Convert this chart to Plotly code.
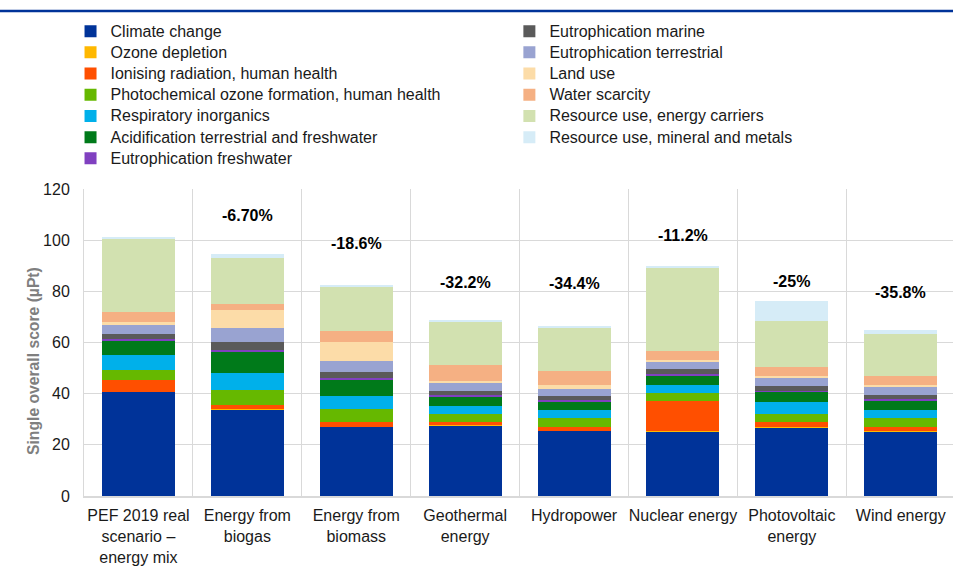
import plotly.graph_objects as go

categories = ["PEF 2019 real<br>scenario –<br>energy mix", "Energy from<br>biogas", "Energy from<br>biomass",
              "Geothermal<br>energy", "Hydropower", "Nuclear energy", "Photovoltaic<br>energy", "Wind energy"]

climate_change = [40.7, 34.0, 27.0, 27.4, 25.5, 25.3, 26.9, 25.3]
ozone_depletion = [0.1, 0.05, 0.05, 0.3, 0.05, 0.05, 0.05, 0.05]
ionising_radiation = [4.5, 1.7, 1.7, 1.4, 1.6, 11.7, 1.9, 1.8]
photochemical_ozone = [4.1, 5.7, 5.2, 3.0, 3.2, 3.3, 3.3, 3.2]
respiratory_inorganics = [5.8, 6.8, 5.3, 3.0, 3.1, 2.9, 4.7, 3.2]
acidification = [5.5, 8.0, 6.0, 3.9, 3.6, 3.9, 3.8, 3.6]
eutro_freshwater = [0.5, 1.0, 0.8, 0.4, 0.5, 0.7, 0.4, 0.6]
eutro_marine = [2.0, 2.9, 2.4, 1.6, 1.7, 1.6, 1.9, 1.7]
eutro_terrestrial = [3.8, 5.4, 4.3, 3.0, 2.7, 2.8, 3.1, 3.1]
land_use = [0.9, 7.3, 7.4, 0.9, 1.3, 1.0, 1.0, 0.9]
water_scarcity = [4.0, 2.3, 4.3, 6.4, 5.5, 3.3, 3.5, 3.4]
resource_energy = [28.5, 17.9, 17.3, 16.7, 16.8, 32.6, 17.7, 16.6]
resource_mineral = [0.9, 1.6, 0.8, 0.8, 0.9, 0.9, 7.9, 1.5]

change_labels = ["", "-6.70%", "-18.6%", "-32.2%", "-34.4%", "-11.2%", "-25%", "-35.8%"]
label_y = [None, 109.7, 98.6, 83.5, 82.9, 102.0, 84.0, 79.5]

y_title = "Single overall score (µPt)"

series = [
    ("Climate change", climate_change, "#003399", "legend"),
    ("Ozone depletion", ozone_depletion, "#FFB800", "legend"),
    ("Ionising radiation, human health", ionising_radiation, "#FF4F00", "legend"),
    ("Photochemical ozone formation, human health", photochemical_ozone, "#66B800", "legend"),
    ("Respiratory inorganics", respiratory_inorganics, "#00B0EA", "legend"),
    ("Acidification terrestrial and freshwater", acidification, "#007A1A", "legend"),
    ("Eutrophication freshwater", eutro_freshwater, "#8040C0", "legend"),
    ("Eutrophication marine", eutro_marine, "#5A5A5A", "legend2"),
    ("Eutrophication terrestrial", eutro_terrestrial, "#99A3D1", "legend2"),
    ("Land use", land_use, "#FCDCA8", "legend2"),
    ("Water scarcity", water_scarcity, "#F5B083", "legend2"),
    ("Resource use, energy carriers", resource_energy, "#D2E1B0", "legend2"),
    ("Resource use, mineral and metals", resource_mineral, "#D6ECF7", "legend2"),
]

FONT = "Liberation Sans, Arial, sans-serif"

fig = go.Figure()
for name, vals, color, lg in series:
    fig.add_trace(go.Bar(x=categories, y=vals,
                         name="<span style='font-size:16px'>" + name + "</span>",
                         marker_color=color, marker_line_width=0, width=0.67, legend=lg))

for c, t, yv in zip(categories, change_labels, label_y):
    if t:
        fig.add_annotation(x=c, y=yv, text="<b>" + t + "</b>", showarrow=False,
                           font=dict(size=16, color="#000000", family=FONT))

# y-axis title (placed like the original, slightly below the axis centre)
fig.add_annotation(xref="paper", yref="paper", x=-0.0575, y=0.44, text="<b>" + y_title + "</b>",
                   textangle=-90, showarrow=False, xanchor="center", yanchor="middle",
                   font=dict(size=15.7, color="#7f7f7f", family=FONT))

fig.add_shape(type="line", xref="paper", yref="paper", x0=-0.1, x1=1.0, y0=1.58, y1=1.58,
              line=dict(color="#003399", width=2.5))

legend_common = dict(traceorder="normal", bgcolor="rgba(0,0,0,0)",
                     font=dict(size=14, color="#1a1a1a", family=FONT),
                     tracegroupgap=0, itemwidth=30, xanchor="left", yanchor="top",
                     orientation="v")

fig.update_layout(
    width=953, height=576,
    barmode="stack",
    bargap=0.33,
    plot_bgcolor="white", paper_bgcolor="white",
    margin=dict(l=84, r=0, t=189, b=80),
    font=dict(family=FONT, size=16, color="#1a1a1a"),
    legend=dict(x=-0.0155, y=1.565, **legend_common),
    legend2=dict(x=0.4895, y=1.565, **legend_common),
    xaxis=dict(type="category", range=[-0.5, 7.48], tickson="boundaries", showgrid=True,
               gridcolor="#d9d9d9", gridwidth=1, showline=True, linecolor="#d9d9d9",
               linewidth=1.5, ticks="", tickangle=0, automargin=False, ticklabelstandoff=4,
               tickfont=dict(size=16, color="#1a1a1a")),
    yaxis=dict(range=[0, 120], dtick=20, showgrid=True, gridcolor="#d9d9d9", gridwidth=1,
               showline=True, linecolor="#d9d9d9", linewidth=1, zeroline=False, ticks="",
               ticklabelstandoff=10, automargin=False,
               tickfont=dict(size=16, color="#1a1a1a")),
)

fig.write_html("out.html", config={"displayModeBar": False},
               post_script="document.body.style.margin='0';")
